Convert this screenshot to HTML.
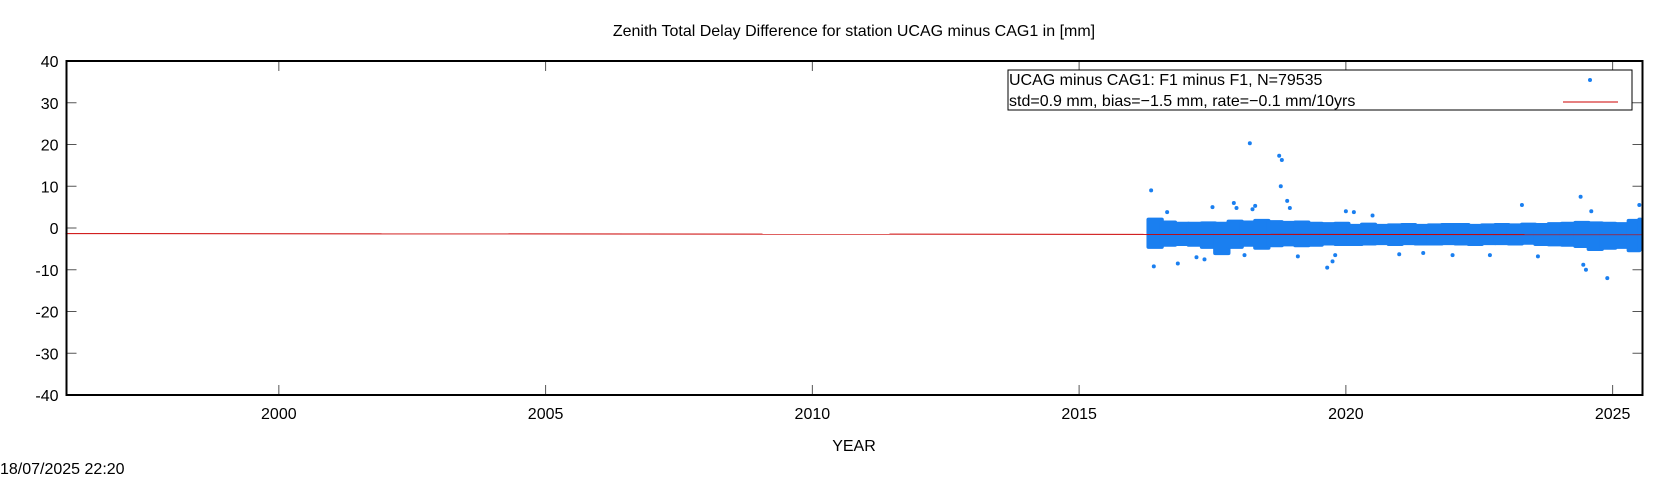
<!DOCTYPE html>
<html><head><meta charset="utf-8">
<style>
html,body{margin:0;padding:0;background:#fff;}
svg{display:block;font-family:"Liberation Sans",sans-serif;}
</style></head>
<body>
<svg id="chart" width="1680" height="480" viewBox="0 0 1680 480">
<text x="854" y="36" font-size="16" text-anchor="middle">Zenith Total Delay Difference for station UCAG minus CAG1 in [mm]</text>
<g id="ticks"></g>
<g id="band"></g>
<g id="trend"></g>
<rect x="66.5" y="61" width="1576" height="334" fill="none" stroke="#000" stroke-width="2"/>
<g>
<rect x="1008" y="70" width="624" height="40" fill="#fff" stroke="#000" stroke-width="1"/>
<text x="1009" y="85" font-size="16">UCAG minus CAG1: F1 minus F1, N=79535</text>
<text x="1009" y="106" font-size="16">std=0.9 mm, bias=−1.5 mm, rate=−0.1 mm/10yrs</text>
<circle cx="1590" cy="80" r="2" fill="#1a7ff0"/>
<line x1="1563" y1="102" x2="1618" y2="102" stroke="#cc0000" stroke-width="1"/>
</g>
<text x="854" y="451" font-size="16" text-anchor="middle">YEAR</text>
<text x="0" y="474" font-size="16">18/07/2025 22:20</text>
</svg>
<script>
const xTicks = [2000, 2005, 2010, 2015, 2020, 2025];
const yTicks = [40, 30, 20, 10, 0, -10, -20, -30, -40];
const binYears = [2016.3,2016.55,2016.8,2017.05,2017.3,2017.55,2017.8,2018.05,2018.3,2018.55,2018.8,2019.05,2019.3,2019.55,2019.8,2020.05,2020.3,2020.55,2020.8,2021.05,2021.3,2021.55,2021.8,2022.05,2022.3,2022.55,2022.8,2023.05,2023.3,2023.55,2023.8,2024.05,2024.3,2024.55,2024.8,2025.05,2025.3,2025.5];
const binUpper = [2.5,1.8,1.5,1.5,1.6,1.5,2.0,1.8,2.2,1.9,1.7,1.8,1.5,1.4,1.5,1.0,1.3,1.0,1.1,1.2,1.0,1.1,1.2,1.2,1.0,1.1,1.2,1.1,1.3,1.2,1.4,1.5,1.7,1.6,1.5,1.4,2.2,2.5];
const binLower = [-5.0,-4.5,-4.3,-4.5,-5.0,-6.5,-5.0,-4.5,-5.2,-4.6,-4.4,-4.6,-4.5,-4.2,-4.3,-4.3,-4.2,-4.1,-4.3,-4.1,-4.2,-4.2,-4.1,-4.2,-4.3,-4.1,-4.1,-4.2,-4.0,-4.3,-4.4,-4.5,-4.8,-5.5,-5.2,-5.0,-5.8,-5.5];
const outlierYears = [2016.35,2016.4,2016.65,2016.85,2017.5,2017.9,2017.95,2018.2,2018.25,2018.3,2018.75,2018.8,2018.78,2018.9,2018.95,2019.65,2019.75,2019.8,2020.0,2020.15,2021.0,2022.0,2023.3,2024.4,2024.6,2024.45,2024.5,2024.9,2025.5,2017.2,2017.35,2018.1,2019.1,2020.5,2021.45,2022.7,2023.6];
const outlierValues = [9,-9.2,3.8,-8.5,5,6,4.8,20.3,4.5,5.3,17.3,16.3,10,6.5,4.8,-9.5,-8,-6.5,4,3.8,-6.3,-6.5,5.5,7.5,4,-8.8,-10,-12,5.5,-7,-7.5,-6.5,-6.8,3,-6,-6.5,-6.8];
const trendYears = [1996.0, 2025.56];
const trendValues = [-1.35, -1.6];

const X0=66.5, X1=1642.5, Y0=61, Y1=395, XMIN=1996.02, XMAX=2025.56, YMIN=-40, YMAX=40;
const sx = v => X0 + (v - XMIN) / (XMAX - XMIN) * (X1 - X0);
const sy = v => Y1 - (v - YMIN) / (YMAX - YMIN) * (Y1 - Y0);
const NS = 'http://www.w3.org/2000/svg';
function mk(tag, attrs, parent){const e=document.createElementNS(NS,tag);for(const k in attrs)e.setAttribute(k,attrs[k]);parent.appendChild(e);return e;}

const tg = document.getElementById('ticks');
xTicks.forEach(t=>{
  const x=sx(t);
  const l1=mk('line',{x1:x,y1:Y1,x2:x,y2:Y1-10,stroke:'#555','stroke-width':1},tg);
  
  
  const l2=mk('line',{x1:x,y1:Y0,x2:x,y2:Y0+10,stroke:'#555','stroke-width':1},tg);
  
  
  const tx=mk('text',{x:x,y:Y1+24,'font-size':16,'text-anchor':'middle'},tg);
  tx.textContent=t;
  
  
});
yTicks.forEach(t=>{
  const y=sy(t);
  const l1=mk('line',{x1:X0,y1:y,x2:X0+10,y2:y,stroke:'#555','stroke-width':1},tg);
  
  
  const l2=mk('line',{x1:X1,y1:y,x2:X1-10,y2:y,stroke:'#555','stroke-width':1},tg);
  
  
  const tx=mk('text',{x:X0-8,y:y+6,'font-size':16,'text-anchor':'end'},tg);
  tx.textContent=t;
  
  
});

const bg = document.getElementById('band');
const C='#1a7ff0';
for(let i=0;i<binYears.length;i++){
  const xa=sx(binYears[i])-2;
  const xb=(i+1<binYears.length? sx(binYears[i+1]) : sx(binYears[i])+10)+2;
  const r=mk('rect',{x:xa,y:sy(binUpper[i]),width:Math.min(xb,X1)-xa,height:sy(binLower[i])-sy(binUpper[i]),fill:C,rx:2},bg);
  
  
}
for(let i=0;i<outlierYears.length;i++){
  const c=mk('circle',{cx:sx(outlierYears[i]),cy:sy(outlierValues[i]),r:2,fill:C},bg);
  
  
}
const trg=document.getElementById('trend');
const tl=mk('line',{x1:sx(trendYears[0]),y1:sy(trendValues[0]),x2:sx(trendYears[1]),y2:sy(trendValues[1]),stroke:'#cc0000','stroke-width':1},trg);


</script>
</body></html>
